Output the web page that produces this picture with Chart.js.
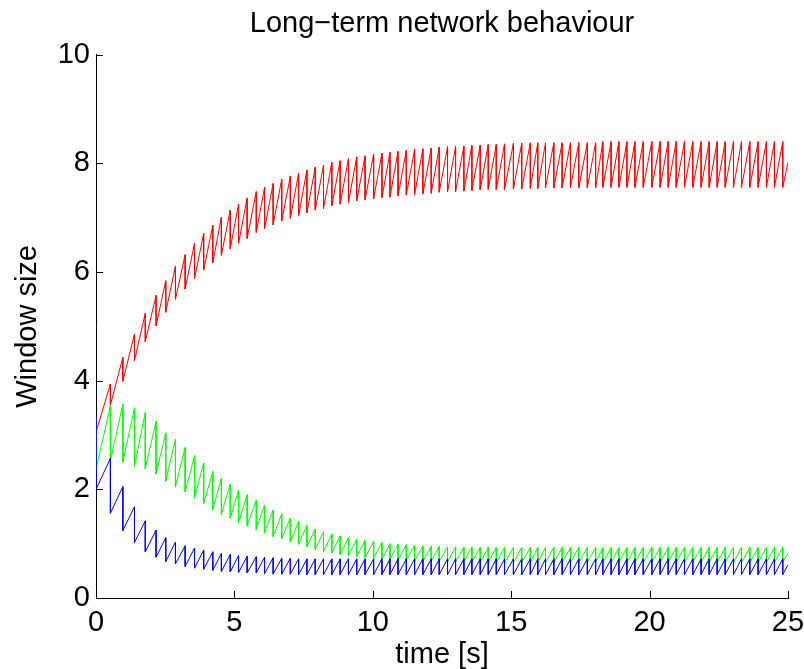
<!DOCTYPE html>
<html>
<head>
<meta charset="utf-8">
<script src="https://cdn.jsdelivr.net/npm/chart.js@4.4.1/dist/chart.umd.min.js"></script>
<style>
  html, body { margin: 0; padding: 0; background: #fff; }
  #wrap { width: 804px; height: 669px; }
</style>
</head>
<body>
<div id="wrap"><canvas id="netChart" width="804" height="669"></canvas></div>
<script>
// times [s] where all three windows drop together (first entry = start)
const dropTimes = [0,
  0.52, 0.97, 1.39, 1.78, 2.17, 2.52, 2.87, 3.22, 3.56, 3.89,
  4.22, 4.53, 4.85, 5.15, 5.46, 5.79, 6.09, 6.40, 6.71, 7.02,
  7.32, 7.62, 7.92, 8.22, 8.52, 8.82, 9.12, 9.42, 9.72, 10.03,
  10.33, 10.62, 10.91, 11.21, 11.51, 11.81, 12.11, 12.40, 12.70, 12.99,
  13.29, 13.58, 13.88, 14.17, 14.46, 14.76, 15.08, 15.38, 15.69, 15.96,
  16.24, 16.54, 16.84, 17.14, 17.44, 17.75, 18.05, 18.31, 18.61, 18.89,
  19.18, 19.47, 19.77, 20.08, 20.38, 20.67, 20.96, 21.26, 21.56, 21.86,
  22.15, 22.44, 22.73, 23.03, 23.32, 23.62, 23.92, 24.22, 24.51, 24.81];
const endTime = 25;

// window just before each drop
const redPeak = [3.33,
  3.94, 4.43, 4.86, 5.24, 5.57, 5.84, 6.11, 6.32, 6.53, 6.71,
  6.86, 7.01, 7.14, 7.25, 7.36, 7.48, 7.56, 7.63, 7.71, 7.77,
  7.82, 7.88, 7.93, 7.97, 8.02, 8.05, 8.09, 8.12, 8.14, 8.17,
  8.19, 8.20, 8.22, 8.24, 8.26, 8.27, 8.28, 8.30, 8.31, 8.31,
  8.32, 8.33, 8.34, 8.35, 8.35, 8.36, 8.37, 8.37, 8.38, 8.38,
  8.38, 8.38, 8.38, 8.38, 8.38, 8.38, 8.38, 8.40, 8.40, 8.40,
  8.40, 8.40, 8.40, 8.40, 8.40, 8.40, 8.40, 8.40, 8.40, 8.40,
  8.40, 8.40, 8.40, 8.40, 8.40, 8.40, 8.40, 8.40, 8.40, 8.40];
// window just after each drop
const redLow = [3.05,
  3.55, 3.99, 4.37, 4.72, 5.01, 5.26, 5.50, 5.69, 5.88, 6.04,
  6.17, 6.31, 6.43, 6.53, 6.62, 6.73, 6.80, 6.87, 6.94, 6.99,
  7.04, 7.09, 7.14, 7.17, 7.22, 7.25, 7.28, 7.31, 7.33, 7.35,
  7.37, 7.38, 7.40, 7.42, 7.43, 7.44, 7.45, 7.47, 7.48, 7.48,
  7.49, 7.50, 7.51, 7.52, 7.52, 7.52, 7.53, 7.53, 7.54, 7.54,
  7.55, 7.55, 7.55, 7.55, 7.55, 7.55, 7.55, 7.56, 7.56, 7.56,
  7.56, 7.56, 7.56, 7.56, 7.56, 7.56, 7.56, 7.56, 7.56, 7.56,
  7.56, 7.56, 7.56, 7.56, 7.56, 7.56, 7.56, 7.56, 7.56, 7.56];
const redEnd = 8.02;

const greenPeak = [3.33,
  3.54, 3.57, 3.50, 3.41, 3.25, 3.04, 2.92, 2.77, 2.62, 2.48,
  2.33, 2.20, 2.10, 1.98, 1.90, 1.80, 1.71, 1.62, 1.55, 1.47,
  1.41, 1.34, 1.27, 1.22, 1.18, 1.14, 1.11, 1.08, 1.06, 1.04,
  1.02, 1.00, 0.99, 0.98, 0.97, 0.96, 0.95, 0.95, 0.94, 0.94,
  0.94, 0.94, 0.93, 0.93, 0.93, 0.93, 0.93, 0.93, 0.93, 0.93,
  0.93, 0.93, 0.93, 0.93, 0.93, 0.93, 0.93, 0.93, 0.93, 0.93,
  0.93, 0.93, 0.93, 0.93, 0.93, 0.93, 0.93, 0.93, 0.93, 0.93,
  0.93, 0.93, 0.93, 0.93, 0.93, 0.93, 0.93, 0.93, 0.93, 0.93];
const greenLow = [2.37,
  2.52, 2.50, 2.42, 2.38, 2.28, 2.15, 2.05, 1.95, 1.84, 1.74,
  1.63, 1.54, 1.47, 1.39, 1.33, 1.26, 1.20, 1.13, 1.09, 1.03,
  0.99, 0.94, 0.89, 0.85, 0.83, 0.80, 0.78, 0.76, 0.74, 0.73,
  0.71, 0.70, 0.69, 0.69, 0.68, 0.67, 0.67, 0.67, 0.66, 0.66,
  0.66, 0.66, 0.65, 0.65, 0.65, 0.65, 0.65, 0.65, 0.65, 0.65,
  0.65, 0.65, 0.65, 0.65, 0.65, 0.65, 0.65, 0.65, 0.65, 0.65,
  0.65, 0.65, 0.65, 0.65, 0.65, 0.65, 0.65, 0.65, 0.65, 0.65,
  0.65, 0.65, 0.65, 0.65, 0.65, 0.65, 0.65, 0.65, 0.65, 0.65];
const greenEnd = 0.82;

const bluePeak = [3.33,
  2.57, 2.05, 1.68, 1.42, 1.25, 1.11, 1.03, 0.96, 0.92, 0.88,
  0.85, 0.82, 0.80, 0.78, 0.77, 0.76, 0.75, 0.74, 0.73, 0.73,
  0.72, 0.72, 0.72, 0.72, 0.72, 0.72, 0.72, 0.72, 0.72, 0.72,
  0.72, 0.72, 0.72, 0.72, 0.72, 0.72, 0.72, 0.72, 0.72, 0.72,
  0.72, 0.72, 0.72, 0.72, 0.72, 0.72, 0.72, 0.72, 0.72, 0.72,
  0.72, 0.72, 0.72, 0.72, 0.72, 0.72, 0.72, 0.72, 0.72, 0.72,
  0.72, 0.72, 0.72, 0.72, 0.72, 0.72, 0.72, 0.72, 0.72, 0.72,
  0.72, 0.72, 0.72, 0.72, 0.72, 0.72, 0.72, 0.72, 0.72, 0.72];
const blueLow = [2.00,
  1.56, 1.24, 1.02, 0.85, 0.75, 0.67, 0.63, 0.58, 0.55, 0.53,
  0.51, 0.49, 0.48, 0.47, 0.46, 0.46, 0.45, 0.44, 0.44, 0.44,
  0.43, 0.43, 0.43, 0.43, 0.43, 0.43, 0.43, 0.43, 0.43, 0.43,
  0.43, 0.43, 0.43, 0.43, 0.43, 0.43, 0.43, 0.43, 0.43, 0.43,
  0.43, 0.43, 0.43, 0.43, 0.43, 0.43, 0.43, 0.43, 0.43, 0.43,
  0.43, 0.43, 0.43, 0.43, 0.43, 0.43, 0.43, 0.43, 0.43, 0.43,
  0.43, 0.43, 0.43, 0.43, 0.43, 0.43, 0.43, 0.43, 0.43, 0.43,
  0.43, 0.43, 0.43, 0.43, 0.43, 0.43, 0.43, 0.43, 0.43, 0.43];
const blueEnd = 0.61;

const xTicks = [0, 5, 10, 15, 20, 25];
const yTicks = [0, 2, 4, 6, 8, 10];

const FONT = "'Liberation Sans', Arial, Helvetica, sans-serif";

// peak then low at every drop time, then the last rise up to t = 25
function sawtooth(peaks, lows, endValue) {
    const pts = [];
    dropTimes.forEach((t, i) => {
        pts.push({ x: t, y: peaks[i] });
        pts.push({ x: t, y: lows[i] });
    });
    pts.push({ x: endTime, y: endValue });
    return pts;
}

// matlab style ticks pointing into the axes
const inwardTicks = {
    id: 'inwardTicks',
    afterDatasetsDraw(chart) {
        const { ctx, chartArea, scales } = chart;
        const len = 7;
        ctx.save();
        ctx.strokeStyle = '#000';
        ctx.lineWidth = 1;
        ctx.beginPath();
        xTicks.forEach(v => {
            const px = Math.round(scales.x.getPixelForValue(v)) + 0.5;
            ctx.moveTo(px, chartArea.bottom);
            ctx.lineTo(px, chartArea.bottom - len);
        });
        yTicks.forEach(v => {
            const py = Math.round(scales.y.getPixelForValue(v)) + 0.5;
            ctx.moveTo(chartArea.left, py);
            ctx.lineTo(chartArea.left + len, py);
        });
        ctx.stroke();
        ctx.restore();
    }
};

const lineStyle = {
    borderWidth: 1,
    pointRadius: 0,
    tension: 0,
    fill: false
};

const ctx = document.getElementById('netChart').getContext('2d');
new Chart(ctx, {
    type: 'line',
    data: {
        datasets: [
            { label: 'flow 3', data: sawtooth(bluePeak, blueLow, blueEnd), borderColor: '#0000ff', ...lineStyle },
            { label: 'flow 2', data: sawtooth(greenPeak, greenLow, greenEnd), borderColor: '#00ff00', ...lineStyle },
            { label: 'flow 1', data: sawtooth(redPeak, redLow, redEnd), borderColor: '#ff0000', ...lineStyle }
        ]
    },
    options: {
        responsive: false,
        animation: false,
        devicePixelRatio: 1,
        layout: { padding: { left: 0, right: 16, top: 0, bottom: 0 } },
        scales: {
            x: {
                type: 'linear',
                min: 0,
                max: 25,
                afterBuildTicks: s => { s.ticks = xTicks.map(v => ({ value: v })); },
                afterFit: s => {
                    s.height = 71;
                    s.paddingLeft = 0;
                    s.paddingRight = 0;
                },
                grid: { display: false, drawTicks: false },
                border: { display: true, color: '#000', width: 1 },
                ticks: {
                    color: '#000',
                    padding: 8,
                    maxRotation: 0,
                    font: { family: FONT, size: 29 }
                },
                title: {
                    display: true,
                    text: 'time [s]',
                    color: '#000',
                    font: { family: FONT, size: 29, lineHeight: 1 },
                    padding: { top: 0, bottom: 0 }
                }
            },
            y: {
                type: 'linear',
                min: 0,
                max: 10,
                afterBuildTicks: s => { s.ticks = yTicks.map(v => ({ value: v })); },
                afterFit: s => { s.width = 96; },
                grid: { display: false, drawTicks: false },
                border: { display: true, color: '#000', width: 1 },
                ticks: {
                    color: '#000',
                    padding: 6,
                    font: { family: FONT, size: 29 }
                },
                title: {
                    display: true,
                    text: 'Window size',
                    color: '#000',
                    font: { family: FONT, size: 29, lineHeight: 1 },
                    padding: { top: 13, bottom: 0 }
                }
            }
        },
        plugins: {
            legend: { display: false },
            tooltip: { enabled: false },
            title: {
                display: true,
                fullSize: false,
                text: 'Long\u2212term network behaviour',
                color: '#000',
                font: { family: FONT, size: 29, weight: 'normal', lineHeight: 1.2 },
                padding: { top: 7, bottom: 13 }
            }
        }
    },
    plugins: [inwardTicks]
});
</script>
</body>
</html>
